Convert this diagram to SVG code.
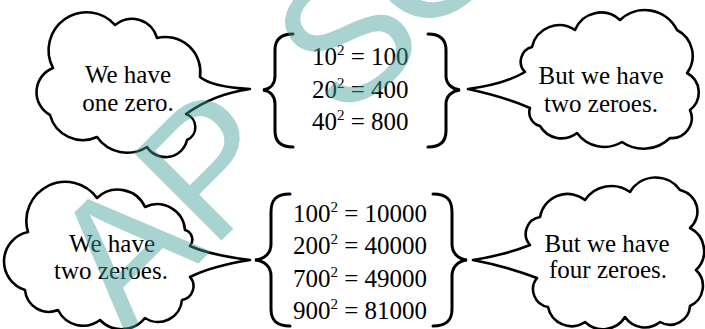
<svg xmlns="http://www.w3.org/2000/svg" width="705" height="329" viewBox="0 0 705 329">
<defs>
<style>
.cloud{fill:#fff;stroke:#000;stroke-width:2.6;stroke-linejoin:round}
.brace{fill:none;stroke:#000;stroke-width:3;stroke-linecap:round}
.t{font-family:"Liberation Serif","Times New Roman",serif;font-size:25px;fill:#000}
.c{text-anchor:middle}
.sup{font-size:15px}
.wm{font-family:"Liberation Sans",Arial,sans-serif;font-size:180px;fill:#3f9e9a;opacity:0.45}
</style>
</defs>
<rect width="705" height="329" fill="#fff"/>

<g id="cloud-top-left">
<path class="cloud" d="M200,77 Q212,87 250,89 Q214,94 186,114 A14 14 0 0 1 187,140 A22 22 0 0 1 147,147 A37 37 0 0 1 97,137 A34 34 0 0 1 50,115 A26 26 0 0 1 53,68 A38 38 0 0 1 115,25 A26 26 0 0 1 157,38 A35 35 0 0 1 200,77 Z"/>
<text class="t c" x="128" y="83">We have</text>
<text class="t c" x="128" y="111">one zero.</text>
</g>

<g id="squares-top">
<path class="brace" d="M293,34 C280,34 275,40 275,50 L275,76 C275,84 270,89 263,90 C270,91 275,96 275,104 L275,131 C275,141 280,147 293,147"/>
<path class="brace" d="M428,34 C441,34 446,40 446,50 L446,76 C446,84 452,89 460,90 C452,91 446,96 446,104 L446,131 C446,141 441,147 428,147"/>
<text class="t" x="312" y="65">10<tspan class="sup" dy="-10">2</tspan><tspan dy="10"> = 100</tspan></text>
<text class="t" x="312" y="98">20<tspan class="sup" dy="-10">2</tspan><tspan dy="10"> = 400</tspan></text>
<text class="t" x="312" y="130">40<tspan class="sup" dy="-10">2</tspan><tspan dy="10"> = 800</tspan></text>
</g>

<g id="cloud-top-right">
<path class="cloud" d="M525,72 A15 15 0 0 1 532,47 A28 28 0 0 1 575,30 A28 28 0 0 1 620,20 A36 36 0 0 1 677,30 A29 29 0 0 1 687,73 A22 22 0 0 1 690,110 A20 20 0 0 1 670,138 A38 38 0 0 1 622,142 A34 34 0 0 1 577,133 A25 25 0 0 1 540,126 A14 14 0 0 1 530,108 Q505,97 468,89 Q505,84 525,72 Z"/>
<text class="t c" x="601" y="84">But we have</text>
<text class="t c" x="601" y="112">two zeroes.</text>
</g>

<g id="cloud-bottom-left">
<path class="cloud" d="M190,246 Q210,255 250,260 Q212,266 190,277 A14 14 0 0 1 182,300 A24 24 0 0 1 145,318 A30 30 0 0 1 100,320 A28 28 0 0 1 58,310 A24 24 0 0 1 25,290 A30 30 0 0 1 28,232 A39 39 0 0 1 97,198 A30 30 0 0 1 145,207 A28 28 0 0 1 185,230 A10 10 0 0 1 190,246 Z"/>
<text class="t c" x="112" y="252">We have</text>
<text class="t c" x="111" y="279">two zeroes.</text>
</g>

<g id="squares-bottom">
<path class="brace" d="M290,194 C276,194 271,200 271,212 L271,244 C271,253 265,259 255,260 C265,261 271,267 271,276 L271,309 C271,320 276,326 290,326"/>
<path class="brace" d="M433,194 C447,194 452,200 452,212 L452,244 C452,253 458,259 467,260 C458,261 452,267 452,276 L452,309 C452,320 447,326 433,326"/>
<text class="t" x="293" y="222">100<tspan class="sup" dy="-10">2</tspan><tspan dy="10"> = 10000</tspan></text>
<text class="t" x="293" y="254">200<tspan class="sup" dy="-10">2</tspan><tspan dy="10"> = 40000</tspan></text>
<text class="t" x="293" y="287">700<tspan class="sup" dy="-10">2</tspan><tspan dy="10"> = 49000</tspan></text>
<text class="t" x="293" y="319">900<tspan class="sup" dy="-10">2</tspan><tspan dy="10"> = 81000</tspan></text>
</g>

<g id="cloud-bottom-right">
<path class="cloud" d="M530,245 A17 17 0 0 1 540,217 A28 28 0 0 1 585,200 A32 32 0 0 1 630,192 A30 30 0 0 1 680,190 A22 22 0 0 1 690,228 A26 26 0 0 1 696,270 A22 22 0 0 1 690,306 A20 20 0 0 1 660,322 A24 24 0 0 1 625,317 A26 26 0 0 1 585,322 A24 24 0 0 1 548,307 A18 18 0 0 1 537,278 Q505,266 473,260 Q505,255 530,245 Z"/>
<text class="t c" x="607" y="252">But we have</text>
<text class="t c" x="608" y="278">four zeroes.</text>
</g>

<g id="connectors"></g>

<g id="watermark">
<text class="wm" transform="translate(126,336) rotate(-45)">AP</text>
<text class="wm" transform="translate(336,122) rotate(-37)">S</text>
<text class="wm" transform="translate(407,44) rotate(-35)">C</text>
</g>
</svg>
